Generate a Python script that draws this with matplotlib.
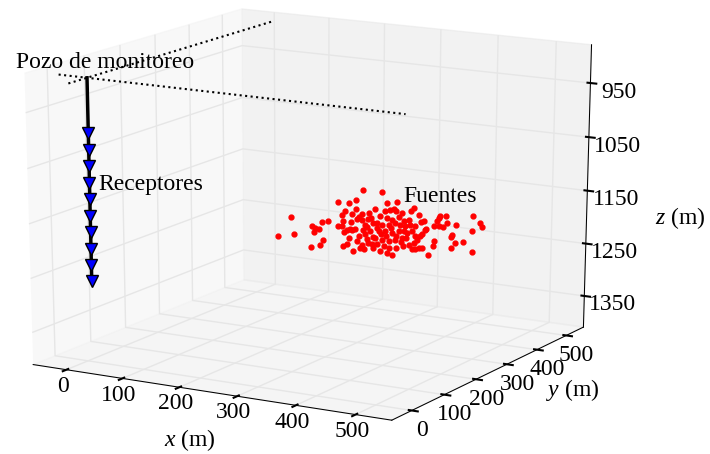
import matplotlib
matplotlib.use('Agg')
import matplotlib as mpl
import matplotlib.pyplot as plt

mpl.rcParams['_internal.classic_mode'] = True
plt.rcParams['font.family'] = 'serif'
plt.rcParams['font.serif'] = ['Liberation Serif']
plt.rcParams['mathtext.fontset'] = 'custom'
plt.rcParams['mathtext.rm'] = 'Liberation Serif'
plt.rcParams['mathtext.it'] = 'Liberation Serif:italic'
plt.rcParams['font.size'] = 17

# pozo de monitoreo y receptores
pozo_x = 10
pozo_y = 0
pozo_z = 892
rec_z = [990, 1020, 1050, 1080, 1110, 1140, 1170, 1200, 1230, 1260]
sup_x = [-40, 545]
sup_y = [-50, 540]

# fuentes (x, z) en el plano y = 250
fue_y = 250
fue_x = [336, 294, 313, 325, 306, 325, 301, 318, 211, 277, 265, 248, 253, 260, 252,
         188, 217, 247, 262, 267, 294, 303, 303, 310, 320, 305, 315, 324, 332, 339,
         300, 317, 310, 318, 327, 330, 336, 341, 346, 351, 336, 344, 349, 341, 354,
         346, 353, 336, 358, 370, 524, 536, 539, 522, 524, 495, 508, 490, 488, 495,
         488, 459, 457, 449, 467, 469, 464, 459, 467, 474, 438, 445, 433, 425, 437,
         426, 421, 426, 438, 375, 383, 390, 394, 366, 378, 387, 399, 407, 416, 418,
         409, 401, 392, 382, 370, 361, 365, 375, 387, 399, 407, 413, 421, 426, 404,
         392, 382, 370, 361, 373, 383, 395, 407, 378, 387, 366, 358, 425, 430, 348,
         354, 361, 368, 377, 385, 394, 402, 411, 416, 354, 344, 337, 330, 395, 378,
         404, 419, 327, 313, 478, 481, 442, 443, 435, 433]
fue_z = [1107, 1135, 1135, 1127, 1150, 1144, 1158, 1154, 1173, 1172, 1176, 1185, 1188, 1190, 1196,
         1213, 1204, 1225, 1219, 1209, 1180, 1169, 1215, 1211, 1222, 1189, 1182, 1181, 1214, 1216,
         1179, 1169, 1185, 1184, 1162, 1158, 1163, 1170, 1160, 1156, 1152, 1175, 1180, 1188, 1192,
         1203, 1205, 1208, 1140, 1107, 1130, 1141, 1148, 1156, 1195, 1150, 1178, 1169, 1173, 1182,
         1192, 1184, 1194, 1210, 1141, 1137, 1147, 1157, 1156, 1157, 1174, 1164, 1140, 1128, 1152,
         1179, 1204, 1203, 1200, 1140, 1137, 1134, 1137, 1150, 1152, 1155, 1148, 1154, 1151, 1160,
         1163, 1162, 1160, 1165, 1166, 1164, 1178, 1177, 1179, 1174, 1172, 1175, 1171, 1161, 1186,
         1191, 1194, 1194, 1204, 1205, 1207, 1205, 1200, 1217, 1220, 1215, 1192, 1192, 1186, 1147,
         1165, 1173, 1183, 1186, 1170, 1183, 1194, 1185, 1197, 1211, 1197, 1180, 1192, 1122, 1126,
         1140, 1134, 1203, 1198, 1136, 1148, 1150, 1166, 1178, 1201]

fig = plt.figure(figsize=(7.1, 4.54), dpi=100)
ax = fig.add_axes([-0.106, -0.079, 1.065, 1.225], projection='3d')
ax.apply_aspect = lambda *a, **k: None   # old style: projection stretched to the axes box
ax.view_init(elev=17.5, azim=-60)
ax.set_box_aspect((1, 1, 1), zoom=0.9089)

ax.plot(sup_x, [pozo_y, pozo_y], [pozo_z, pozo_z], 'k:', lw=1.5)
ax.plot([pozo_x, pozo_x], sup_y, [pozo_z, pozo_z], 'k:', lw=1.5)
ax.plot([pozo_x, pozo_x], [pozo_y, pozo_y], [pozo_z, rec_z[-1]], 'k-', lw=2.5)
ax.plot([pozo_x] * len(rec_z), [pozo_y] * len(rec_z), rec_z, 'bv', ms=9, mec='k')
ax.plot(fue_x, [fue_y] * len(fue_x), fue_z, 'o', color='r', mec='r', ms=3.5)

ax.set_xlim(-60, 560)
ax.set_ylim(-60, 560)
ax.set_zlim(1410, 880)
ax.set_xticks([0, 100, 200, 300, 400, 500])
ax.set_yticks([0, 100, 200, 300, 400, 500])
ax.set_zticks([950, 1050, 1150, 1250, 1350])
ax.xaxis.set_tick_params(pad=-4)
ax.yaxis.set_tick_params(pad=-1)
ax.zaxis.set_tick_params(pad=5)

fig.text(0.268, 0.031, r'$x$ (m)', ha='center', va='center')
fig.text(0.806, 0.141, r'$y$ (m)', ha='center', va='center')
fig.text(0.958, 0.520, r'$z$ (m)', ha='center', va='center')

fig.text(0.148, 0.850, 'Pozo de monitoreo', ha='center', va='baseline')
fig.text(0.138, 0.581, 'Receptores', ha='left', va='baseline')
fig.text(0.568, 0.555, 'Fuentes', ha='left', va='baseline')

fig.savefig('out.png', dpi=100, facecolor='white')
